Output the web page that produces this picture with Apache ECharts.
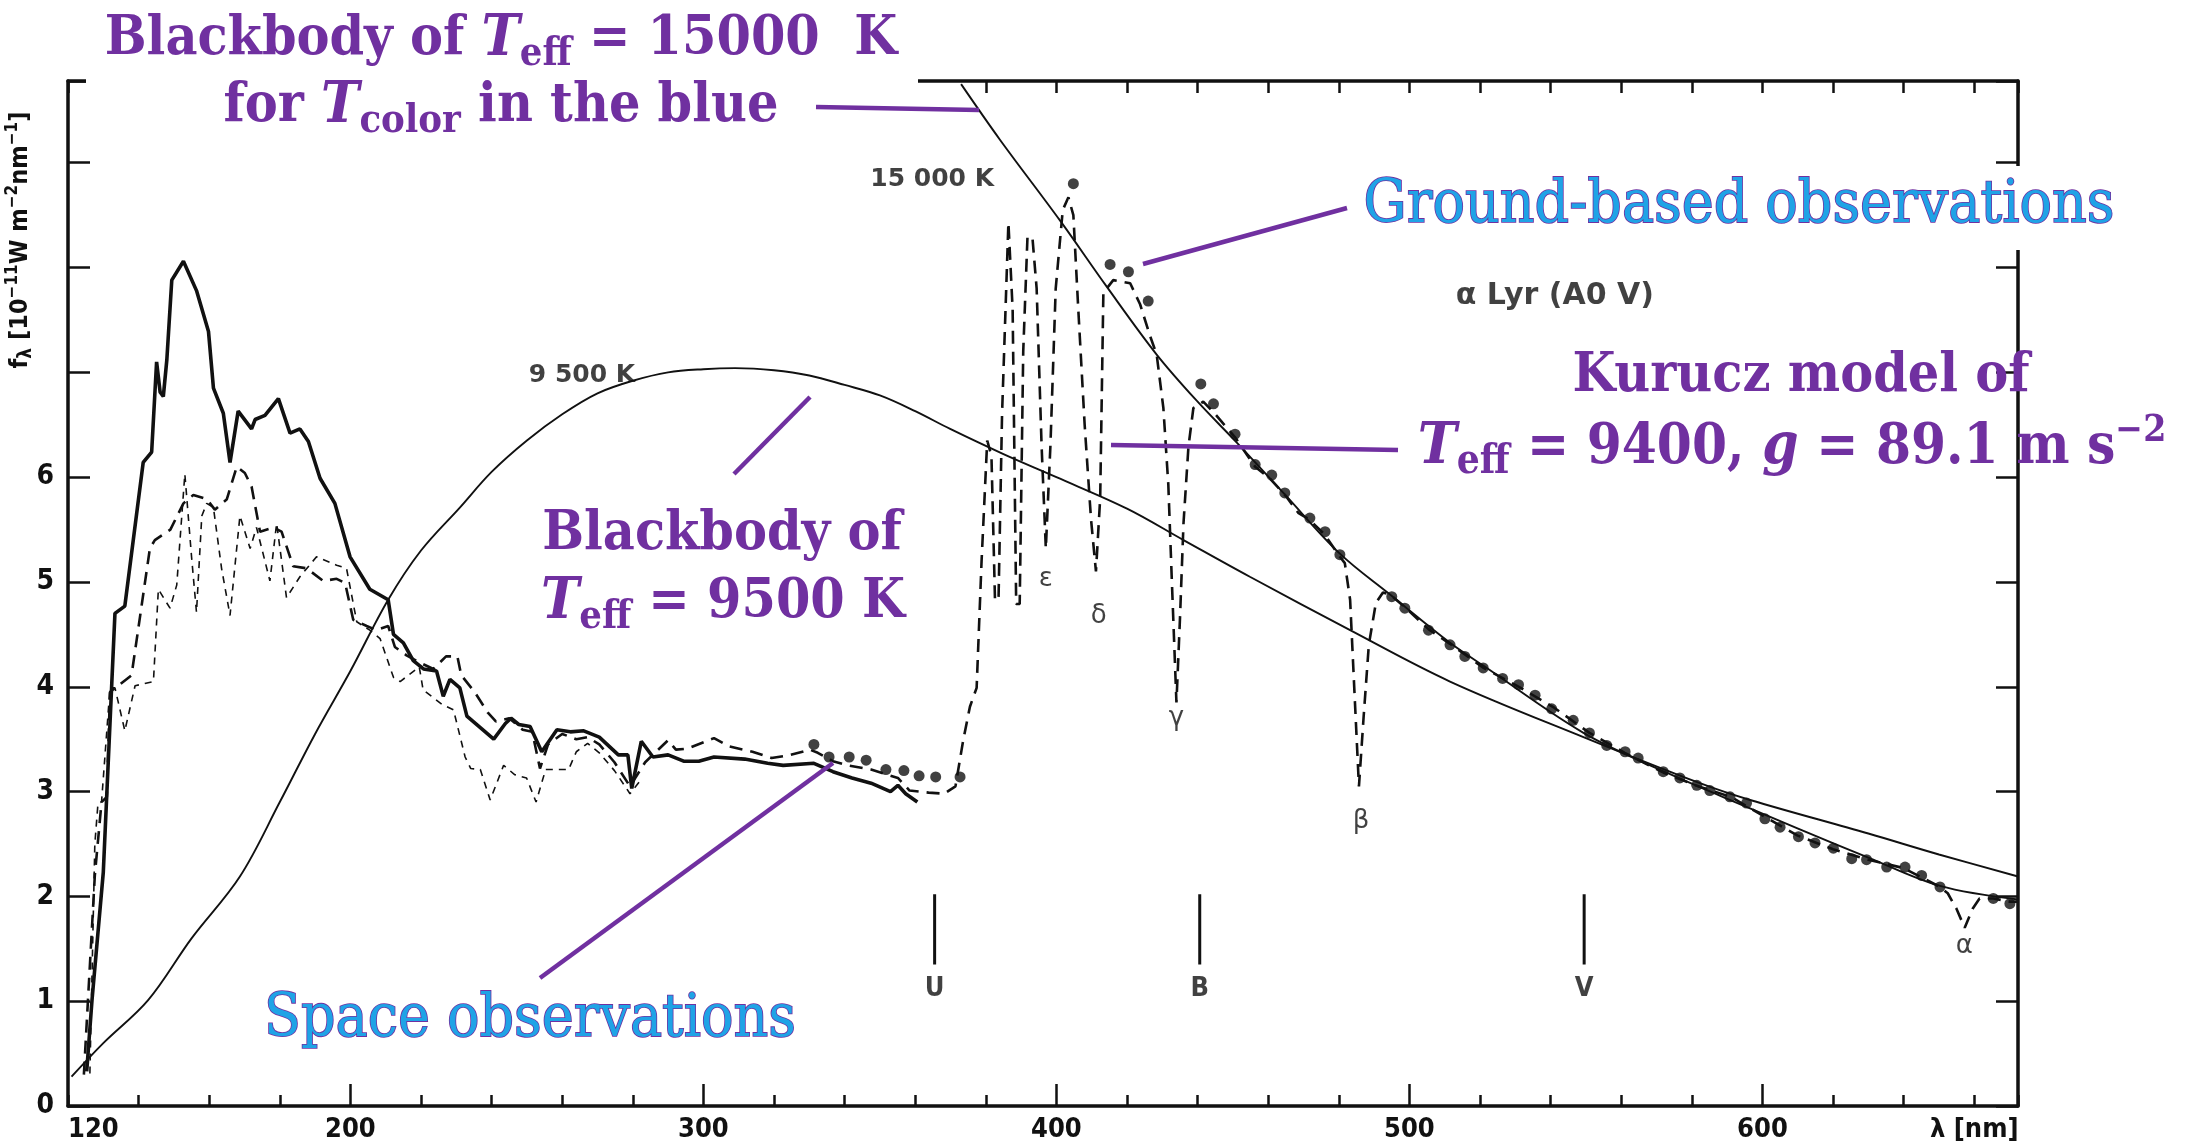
<!DOCTYPE html>
<html>
<head>
<meta charset="utf-8">
<title>α Lyr spectral energy distribution</title>
<script src="https://cdn.jsdelivr.net/npm/echarts@6.0.0/dist/echarts.min.js"></script>
<style>
  html, body { margin: 0; padding: 0; background: #fff; }
  #chart { width: 2200px; height: 1145px; }
</style>
</head>
<body>
<div id="chart"></div>
<script>
// ---- Axis ranges and tick labels ----
const xMin = 120, xMax = 672.4;
const yMin = 0, yMax = 9.78;
const xLabelValues = [120, 200, 300, 400, 500, 600, 660];
const xMajorTicks = [200, 300, 400, 500, 600];
const yLabelMax = 6;

// ---- Space observations, solid trace (wavelength nm, flux 1e-11 W m^-2 nm^-1) ----
const spaceSolidWl = [125.3, 126.8, 130.0, 132.4, 133.3, 136.1, 141.3, 143.7, 145.1, 146.1, 147.0, 148.0, 149.4, 152.7, 156.4, 159.8, 161.2, 164.0, 165.9, 168.2, 172.0, 173.0, 175.8, 179.6, 182.9, 185.7, 188.1, 191.4, 195.6, 199.9, 205.5, 210.7, 212.2, 215.0, 217.8, 220.7, 224.4, 226.3, 228.2, 231.0, 233.0, 240.6, 243.9, 245.5, 247.7, 250.9, 254.2, 258.5, 262.3, 266.1, 270.5, 275.9, 278.6, 279.7, 282.4, 285.7, 290.0, 294.4, 298.7, 303.0, 311.7, 318.2, 322.6, 331.3, 336.7, 342.1, 347.5, 353.0, 355.1, 357.3, 360.6];
const spaceSolidFlux = [0.33, 1.01, 2.23, 4.03, 4.70, 4.77, 6.14, 6.24, 7.10, 6.81, 6.77, 7.12, 7.88, 8.06, 7.78, 7.39, 6.85, 6.61, 6.14, 6.63, 6.46, 6.55, 6.59, 6.75, 6.42, 6.46, 6.34, 5.99, 5.75, 5.24, 4.93, 4.83, 4.50, 4.42, 4.25, 4.17, 4.15, 3.91, 4.07, 3.99, 3.72, 3.50, 3.65, 3.70, 3.64, 3.62, 3.38, 3.59, 3.57, 3.58, 3.52, 3.35, 3.35, 3.03, 3.48, 3.33, 3.35, 3.29, 3.29, 3.33, 3.31, 3.27, 3.25, 3.27, 3.19, 3.13, 3.08, 3.00, 3.06, 2.98, 2.90];

// ---- Space observations, short-dashed trace ----
const spaceDashWl = [126.2, 127.6, 128.5, 129.5, 131.9, 133.3, 136.1, 139.0, 144.2, 145.6, 148.9, 150.8, 153.1, 155.0, 156.4, 157.9, 159.3, 161.2, 163.5, 165.9, 168.7, 171.6, 173.4, 177.2, 179.1, 181.9, 185.7, 190.4, 196.1, 198.9, 201.8, 205.5, 208.4, 212.2, 214.1, 219.5, 220.6, 226.0, 229.2, 232.5, 234.1, 236.8, 239.6, 243.4, 246.6, 249.9, 252.6, 255.3, 261.8, 264.0, 267.2, 270.5, 274.8, 279.2, 282.0];
const spaceDashFlux = [0.31, 2.50, 2.89, 2.90, 3.99, 3.99, 3.58, 4.01, 4.05, 4.93, 4.75, 4.97, 6.03, 5.24, 4.71, 5.63, 5.75, 5.71, 5.13, 4.68, 5.63, 5.32, 5.52, 5.01, 5.56, 4.85, 5.05, 5.24, 5.16, 5.13, 4.62, 4.54, 4.46, 4.09, 4.05, 4.19, 3.97, 3.83, 3.78, 3.33, 3.22, 3.21, 2.92, 3.25, 3.16, 3.13, 2.90, 3.21, 3.21, 3.38, 3.46, 3.37, 3.20, 2.98, 3.10];

// ---- Kurucz model atmosphere (Teff = 9400 K, g = 89.1 m s^-2) ----
const modelWl = [124.5, 127.6, 129.5, 131.0, 131.9, 138.0, 143.2, 144.6, 149.0, 152.7, 155.5, 159.3, 161.6, 165.0, 167.8, 170.1, 172.0, 174.4, 178.2, 180.5, 183.8, 187.6, 192.3, 196.1, 198.5, 200.8, 204.6, 207.4, 210.7, 212.6, 215.9, 219.7, 223.5, 227.1, 230.3, 231.4, 235.2, 239.0, 241.2, 245.0, 248.8, 251.5, 253.7, 256.0, 260.0, 264.0, 267.2, 270.5, 274.8, 279.2, 283.5, 290.0, 292.2, 295.4, 303.0, 307.4, 313.9, 319.3, 324.7, 330.2, 332.4, 336.7, 341.0, 347.5, 355.1, 358.4, 363.8, 368.2, 371.4, 373.6, 375.5, 377.4, 378.8, 380.4, 381.6, 382.6, 383.6, 384.6, 386.4, 387.6, 388.6, 389.6, 390.6, 391.8, 393.2, 394.4, 395.8, 397.0, 398.3, 399.8, 401.8, 403.4, 404.8, 406.2, 408.0, 409.8, 411.2, 412.4, 413.3, 416.1, 420.9, 423.7, 426.5, 428.4, 430.3, 431.7, 432.7, 434.0, 435.0, 436.0, 437.4, 438.8, 441.6, 444.5, 450.6, 456.3, 460.7, 465.0, 468.5, 471.4, 475.8, 480.3, 481.7, 483.2, 484.5, 485.7, 487.0, 488.5, 490.5, 492.5, 494.5, 498.7, 505.4, 511.5, 521.0, 531.0, 541.0, 551.0, 561.0, 572.0, 581.0, 591.0, 600.7, 610.0, 620.0, 630.0, 640.0, 650.3, 652.5, 655.0, 657.3, 659.5, 661.5, 665.4, 670.1, 672.4];
const modelFlux = [0.30, 2.20, 2.90, 2.95, 3.95, 4.11, 5.32, 5.40, 5.50, 5.75, 5.83, 5.79, 5.69, 5.79, 6.10, 6.04, 5.91, 5.48, 5.52, 5.48, 5.15, 5.13, 5.01, 5.03, 4.99, 4.64, 4.58, 4.54, 4.58, 4.38, 4.30, 4.23, 4.17, 4.29, 4.29, 4.11, 3.95, 3.75, 3.67, 3.70, 3.59, 3.57, 3.22, 3.45, 3.55, 3.50, 3.52, 3.45, 3.28, 3.05, 3.28, 3.49, 3.40, 3.41, 3.51, 3.43, 3.38, 3.32, 3.35, 3.40, 3.37, 3.29, 3.25, 3.21, 3.13, 3.01, 2.99, 2.98, 3.05, 3.49, 3.81, 3.99, 5.20, 6.35, 6.20, 4.83, 4.83, 6.60, 8.43, 7.60, 4.79, 4.79, 7.20, 8.29, 8.29, 7.80, 6.30, 5.32, 6.30, 7.80, 8.55, 8.67, 8.50, 7.60, 6.50, 5.60, 5.10, 5.80, 7.76, 7.88, 7.85, 7.65, 7.35, 7.17, 6.66, 5.93, 5.01, 3.85, 4.65, 5.56, 6.29, 6.66, 6.72, 6.62, 6.38, 6.10, 5.98, 5.82, 5.66, 5.60, 5.46, 5.24, 5.18, 4.83, 3.90, 3.05, 3.70, 4.40, 4.80, 4.90, 4.88, 4.76, 4.55, 4.41, 4.18, 4.00, 3.80, 3.56, 3.37, 3.18, 3.06, 2.95, 2.76, 2.58, 2.45, 2.35, 2.27, 2.09, 2.03, 1.88, 1.70, 1.88, 1.98, 1.98, 1.95, 1.95];

// ---- Ground-based observations ----
const groundWl = [331.3, 335.6, 341.3, 346.1, 351.7, 356.8, 361.1, 365.8, 372.7, 404.8, 415.2, 420.4, 426.0, 440.9, 444.5, 450.6, 456.3, 461.0, 464.7, 471.8, 476.1, 480.3, 495.0, 498.7, 505.4, 511.5, 515.7, 520.9, 526.4, 530.9, 535.6, 540.3, 546.4, 551.0, 555.9, 561.1, 564.8, 571.9, 576.6, 581.4, 585.1, 590.8, 595.5, 600.7, 605.0, 610.2, 614.9, 620.1, 625.3, 629.5, 635.2, 640.4, 645.1, 650.3, 665.4, 670.1];
const groundFlux = [3.45, 3.33, 3.33, 3.30, 3.21, 3.20, 3.15, 3.14, 3.14, 8.80, 8.03, 7.96, 7.68, 6.89, 6.70, 6.41, 6.12, 6.02, 5.85, 5.61, 5.48, 5.26, 4.86, 4.75, 4.54, 4.40, 4.29, 4.18, 4.08, 4.02, 3.92, 3.79, 3.68, 3.56, 3.44, 3.38, 3.32, 3.19, 3.13, 3.06, 3.01, 2.95, 2.89, 2.74, 2.66, 2.57, 2.51, 2.46, 2.36, 2.35, 2.28, 2.28, 2.20, 2.09, 1.98, 1.93];

// ---- Blackbody curves ----
const bb9500Wl = [121.0, 130.0, 142.7, 155.0, 168.7, 180.0, 190.0, 200.0, 210.7, 220.0, 231.0, 240.0, 250.0, 260.0, 270.0, 280.0, 290.0, 300.0, 309.0, 320.0, 330.0, 340.0, 350.0, 360.0, 369.9, 385.0, 400.0, 420.0, 436.0, 454.8, 483.2, 511.5, 549.3, 582.3, 596.5, 630.0, 650.0, 672.4];
const bb9500Flux = [0.28, 0.60, 1.01, 1.60, 2.19, 2.90, 3.55, 4.15, 4.83, 5.30, 5.71, 6.05, 6.35, 6.60, 6.80, 6.92, 7.00, 7.03, 7.04, 7.02, 6.97, 6.88, 6.78, 6.63, 6.46, 6.22, 6.00, 5.70, 5.40, 5.05, 4.54, 4.05, 3.52, 3.08, 2.92, 2.60, 2.40, 2.19];
const bb15000Wl = [373.0, 384.0, 401.0, 414.2, 428.4, 440.0, 451.1, 464.3, 480.3, 494.5, 511.5, 521.0, 549.3, 572.9, 596.5, 610.6, 630.0, 650.3, 672.4];
const bb15000Flux = [9.75, 9.22, 8.45, 7.82, 7.17, 6.72, 6.33, 5.85, 5.27, 4.88, 4.42, 4.20, 3.56, 3.18, 2.84, 2.64, 2.37, 2.10, 1.97];

// ---- Photometric bands ----
const bandNames = ['U', 'B', 'V'];
const bandWl = [365.5, 440.6, 549.5];
const bandMarkFlux = [1.35, 2.02];
const bandLabelFlux = 1.12;

// ---- Balmer line labels ----
const balmerNames = ['ε', 'δ', 'γ', 'β', 'α'];
const balmerWl = [397.0, 412.0, 434.0, 486.3, 657.2];
const balmerLabelFlux = [5.03, 4.67, 3.70, 2.72, 1.52];

// ---- Curve and star labels ----
const tempNames = ['15 000 K', '9 500 K'];
const tempLabelWl = [364.8, 265.6];
const tempLabelFlux = [8.84, 6.97];
const starNames = ['α Lyr (A0 V)'];
const starLabelWl = [541.2];
const starLabelFlux = [7.73];

const pairs = (xs, ys) => xs.map((x, i) => [x, ys[i]]);

const INK = '#111';
const PURPLE = '#7030A0';
const SKY = '#1FA3E6';
const SANS_C = "'DejaVu Sans Condensed', 'Liberation Sans Narrow', 'DejaVu Sans', sans-serif";
const SANS = "'DejaVu Sans', 'Liberation Sans', sans-serif";
const SERIF = "'DejaVu Serif Condensed', 'DejaVu Serif', serif";

const chart = echarts.init(document.getElementById('chart'), null, { renderer: 'canvas' });

const frameLine = { show: true, onZero: false, lineStyle: { color: INK, width: 3.5 } };
const tickStyle = { color: INK, width: 2.5 };

const textSeries = (names, xs, ys, size, weight, family) => ({
  type: 'scatter',
  silent: true,
  symbolSize: 0,
  z: 5,
  data: names.map((n, i) => ({ name: n, value: [xs[i], ys[i]] })),
  label: {
    show: true, position: 'inside', formatter: '{b}',
    color: INK, fontFamily: family || SANS, fontSize: size, fontWeight: weight
  }
});

// rich text styles for the purple annotations
const richPurple = (size, fill, stroke) => {
  const base = { fill: fill, fontFamily: SERIF, fontSize: size, fontWeight: 'bold', lineHeight: size * 1.25 };
  if (stroke) { base.stroke = stroke; base.lineWidth = 1.6; base.fontWeight = 'normal'; }
  return {
    n: base,
    i: Object.assign({}, base, { fontStyle: 'italic', fontSize: size * 1.04 }),
    s: Object.assign({}, base, { fontSize: size * 0.72, lineHeight: size * 0.8, verticalAlign: 'bottom' }),
    p: Object.assign({}, base, { fontSize: size * 0.66, lineHeight: size * 0.7, verticalAlign: 'top' })
  };
};

const note = (x, y, text, size, fill, stroke) => ({
  type: 'text', x: x, y: y, z: 100,
  style: { text: text, align: 'center', verticalAlign: 'middle', rich: richPurple(size, fill || PURPLE, stroke) }
});
const leader = (x1, y1, x2, y2) => ({
  type: 'line', z: 100,
  shape: { x1: x1, y1: y1, x2: x2, y2: y2 },
  style: { stroke: PURPLE, lineWidth: 4.5 }
});
const whiteBox = (x, y, w, h) => ({
  type: 'rect', z: 90, shape: { x: x, y: y, width: w, height: h }, style: { fill: '#fff' }
});

const option = {
  animation: false,
  backgroundColor: '#fff',
  grid: { left: 68, top: 81, width: 1950, height: 1025, containLabel: false },
  xAxis: [
    {
      type: 'value', position: 'bottom', min: xMin, max: xMax, interval: 20,
      axisLine: frameLine,
      axisTick: { show: true, inside: true, length: 11, lineStyle: tickStyle },
      axisLabel: {
        show: true, customValues: xLabelValues, alignMinLabel: 'left',
        formatter: v => (v === 660 ? 'λ [nm]' : String(v)),
        color: INK, fontFamily: SANS_C, fontSize: 27, fontWeight: 'bold', margin: 10
      },
      splitLine: { show: false }
    },
    {
      type: 'value', position: 'bottom', min: xMin, max: xMax, interval: 20,
      axisLine: { show: false },
      axisTick: { show: true, inside: true, length: 22, customValues: xMajorTicks, lineStyle: tickStyle },
      axisLabel: { show: false },
      splitLine: { show: false }
    },
    {
      type: 'value', position: 'top', min: xMin, max: xMax, interval: 20,
      axisLine: frameLine,
      axisTick: { show: true, inside: true, length: 12, lineStyle: tickStyle },
      axisLabel: { show: false },
      splitLine: { show: false }
    }
  ],
  yAxis: [
    {
      type: 'value', position: 'left', min: yMin, max: yMax, interval: 1,
      axisLine: frameLine,
      axisTick: { show: true, inside: true, length: 22, lineStyle: tickStyle },
      axisLabel: {
        formatter: v => (v <= yLabelMax && Number.isInteger(v) ? String(v) : ''),
        color: INK, fontFamily: SANS_C, fontSize: 28, fontWeight: 'bold', margin: 14
      },
      splitLine: { show: false }
    },
    {
      type: 'value', position: 'right', min: yMin, max: yMax, interval: 1,
      axisLine: frameLine,
      axisTick: { show: true, inside: true, length: 22, lineStyle: tickStyle },
      axisLabel: { show: false },
      splitLine: { show: false }
    }
  ],
  series: [
    {
      name: 'Blackbody 9500 K', type: 'line', data: pairs(bb9500Wl, bb9500Flux),
      smooth: 0.35, symbol: 'none', silent: true, z: 2,
      lineStyle: { color: INK, width: 1.9 }
    },
    {
      name: 'Blackbody 15000 K', type: 'line', data: pairs(bb15000Wl, bb15000Flux),
      smooth: 0.35, symbol: 'none', silent: true, z: 2,
      lineStyle: { color: INK, width: 1.9 }
    },
    {
      name: 'Kurucz model', type: 'line', data: pairs(modelWl, modelFlux),
      symbol: 'none', silent: true, z: 3,
      lineStyle: { color: INK, width: 2.6, type: [13, 8] }
    },
    {
      name: 'Space observations (dashed)', type: 'line', data: pairs(spaceDashWl, spaceDashFlux),
      symbol: 'none', silent: true, z: 3,
      lineStyle: { color: INK, width: 1.6, type: [7, 6] }
    },
    {
      name: 'Space observations', type: 'line', data: pairs(spaceSolidWl, spaceSolidFlux),
      symbol: 'none', silent: true, z: 4,
      lineStyle: { color: INK, width: 3.6 }
    },
    {
      name: 'Ground-based observations', type: 'scatter', data: pairs(groundWl, groundFlux),
      symbol: 'circle', symbolSize: 11, silent: true, z: 6,
      itemStyle: { color: INK }
    },
    ...bandWl.map((w, i) => ({
      name: 'Band ' + bandNames[i], type: 'line', symbol: 'none', silent: true, z: 4,
      data: bandMarkFlux.map(f => [w, f]),
      lineStyle: { color: INK, width: 3 }
    })),
    textSeries(bandNames, bandWl, bandNames.map(() => bandLabelFlux), 27, 'bold', SANS_C),
    textSeries(balmerNames, balmerWl, balmerLabelFlux, 26, 'normal', SANS),
    textSeries(tempNames, tempLabelWl, tempLabelFlux, 25, 'bold', SANS),
    textSeries(starNames, starLabelWl, starLabelFlux, 30, 'bold', SANS)
  ],
  graphic: [
    // axis title
    {
      type: 'text', x: 20, y: 240, rotation: Math.PI / 2, z: 50,
      style: {
        text: '{a|f}{b|λ}{a| [10}{c|−11}{a|W m}{c|−2}{a|nm}{c|−1}{a|]}',
        align: 'center', verticalAlign: 'middle',
        rich: {
          a: { fill: INK, fontFamily: SANS_C, fontSize: 25, fontWeight: 'bold', lineHeight: 31 },
          b: { fill: INK, fontFamily: SANS_C, fontSize: 19, fontWeight: 'bold', lineHeight: 21, verticalAlign: 'bottom' },
          c: { fill: INK, fontFamily: SANS_C, fontSize: 17, fontWeight: 'bold', lineHeight: 19, verticalAlign: 'top' }
        }
      }
    },
    // white boxes behind the captions that sit over the frame
    whiteBox(86, 0, 832, 140),
    whiteBox(1352, 166, 790, 84),
    note(501, 40, '{n|Blackbody of }{i|T}{s|eff}{n| = 15000  K}', 55),
    note(501, 107, '{n|for }{i|T}{s|color}{n| in the blue}', 55),
    leader(816, 107, 979, 110),
    note(1739, 206, '{n|Ground-based observations}', 60, SKY, PURPLE),
    leader(1143, 264, 1347, 208),
    note(1801, 377, '{n|Kurucz model of}', 55),
    note(1792, 448, '{i|T}{s|eff}{n| = 9400, }{i|g}{n| = 89.1 m s}{p|−2}', 56),
    leader(1111, 445, 1398, 450),
    note(722, 535, '{n|Blackbody of}', 55),
    note(723, 603, '{i|T}{s|eff}{n| = 9500 K}', 55),
    leader(734, 474, 810, 397),
    note(530, 1020, '{n|Space observations}', 60, SKY, PURPLE),
    leader(540, 978, 833, 763)
  ]
};

chart.setOption(option);
</script>
</body>
</html>
